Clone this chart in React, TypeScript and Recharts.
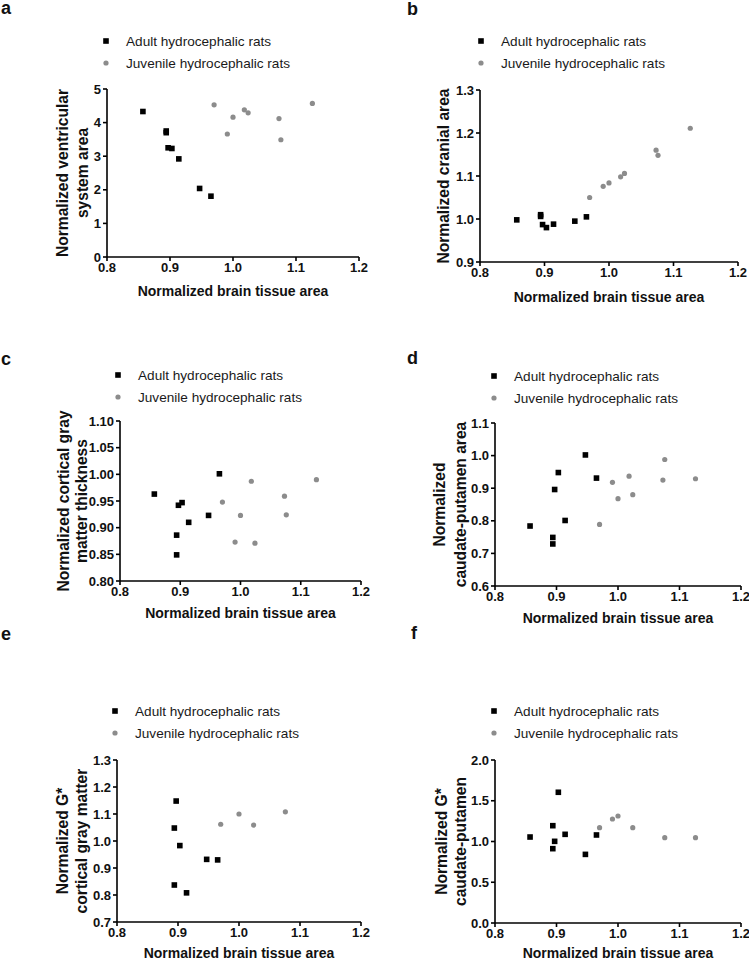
import { Scatter, ScatterChart, XAxis, YAxis } from "recharts";

const FONT = "Arial, 'Liberation Sans', Helvetica, sans-serif";
const ADULT_COLOR = "#000000";
const JUVENILE_COLOR = "#8c8c8c";

const seriesNames = ["Adult hydrocephalic rats", "Juvenile hydrocephalic rats"];
const xTitle = "Normalized brain tissue area";
const xTicks = [0.8, 0.9, 1.0, 1.1, 1.2];

// normalized brain tissue area (x) for each animal
const adultX = [0.857, 0.894, 0.894, 0.897, 0.903, 0.914, 0.947, 0.965];
const juvenileX = [0.97, 0.991, 1.0, 1.018, 1.024, 1.073, 1.076, 1.126];
const adultXE = [0.894, 0.894, 0.897, 0.903, 0.914, 0.947, 0.965];
const juvenileXE = [0.97, 1.0, 1.024, 1.076];
const juvenileXF = [0.97, 0.991, 1.0, 1.024, 1.076, 1.126];

// a - ventricular system area
const ventricularAdult = [4.33, 3.75, 3.7, 3.25, 3.23, 2.92, 2.04, 1.81];
const ventricularJuvenile = [4.53, 3.66, 4.16, 4.38, 4.29, 4.12, 3.49, 4.57];
const ventricularTicks = [0, 1, 2, 3, 4, 5];

// b - cranial area
const cranialAdult = [0.998, 1.01, 1.006, 0.987, 0.98, 0.988, 0.995, 1.005];
const cranialJuvenile = [1.05, 1.076, 1.084, 1.098, 1.106, 1.16, 1.148, 1.211];
const cranialTicks = [0.9, 1.0, 1.1, 1.2, 1.3];

// c - cortical gray matter thickness
const cortexAdult = [0.963, 0.886, 0.849, 0.942, 0.947, 0.91, 0.923, 1.001];
const cortexJuvenile = [0.948, 0.873, 0.923, 0.987, 0.871, 0.959, 0.924, 0.99];
const cortexTicks = [0.8, 0.85, 0.9, 0.95, 1.0, 1.05, 1.1];

// d - caudate-putamen area
const caudateAdult = [0.784, 0.749, 0.729, 0.896, 0.948, 0.801, 1.002, 0.931];
const caudateJuvenile = [0.789, 0.918, 0.868, 0.937, 0.88, 0.925, 0.988, 0.929];
const caudateTicks = [0.6, 0.7, 0.8, 0.9, 1.0, 1.1];

// e - G* cortical gray matter
const gCortexAdult = [1.048, 0.837, 1.148, 0.983, 0.808, 0.932, 0.93];
const gCortexJuvenile = [1.062, 1.1, 1.059, 1.108];
const gCortexTicks = [0.7, 0.8, 0.9, 1.0, 1.1, 1.2, 1.3];

// f - G* caudate-putamen
const gCaudateAdult = [1.055, 1.194, 0.912, 1.002, 1.604, 1.088, 0.842, 1.08];
const gCaudateJuvenile = [1.17, 1.276, 1.313, 1.17, 1.047, 1.047];
const gCaudateTicks = [0, 0.5, 1.0, 1.5, 2.0];

const pairs = (xs: number[], ys: number[]) => xs.map((x, i) => ({ x, y: ys[i] }));

type Panel = {
  letter: string;
  letterX: number;
  letterY: number;
  left: number;
  top: number;
  right: number;
  bottom: number;
  legendX: number;
  legendY: number;
  yTitle: string[];
  yTitleX: number[];
  xTitleDy: number;
  yTicks: number[];
  digits: number;
  adult: { x: number; y: number }[];
  juvenile: { x: number; y: number }[];
};

const panels: Panel[] = [
  {
    letter: "a", letterX: 1, letterY: 14,
    left: 107, top: 89, right: 359, bottom: 257,
    legendX: 106, legendY: 41,
    yTitle: ["Normalized ventricular", "system area"], yTitleX: [-45, -25], xTitleDy: 39,
    yTicks: ventricularTicks, digits: 0,
    adult: pairs(adultX, ventricularAdult), juvenile: pairs(juvenileX, ventricularJuvenile),
  },
  {
    letter: "b", letterX: 407, letterY: 15,
    left: 480, top: 90, right: 738, bottom: 262,
    legendX: 481, legendY: 41,
    yTitle: ["Normalized cranial area"], yTitleX: [-37], xTitleDy: 40,
    yTicks: cranialTicks, digits: 1,
    adult: pairs(adultX, cranialAdult), juvenile: pairs(juvenileX, cranialJuvenile),
  },
  {
    letter: "c", letterX: 1, letterY: 365,
    left: 120, top: 421, right: 361, bottom: 581,
    legendX: 118, legendY: 375,
    yTitle: ["Normalized cortical gray", "matter thickness"], yTitleX: [-57, -39], xTitleDy: 37,
    yTicks: cortexTicks, digits: 2,
    adult: pairs(adultX, cortexAdult), juvenile: pairs(juvenileX, cortexJuvenile),
  },
  {
    letter: "d", letterX: 407, letterY: 364,
    left: 495, top: 423, right: 741, bottom: 586,
    legendX: 494, legendY: 376,
    yTitle: ["Normalized", "caudate-putamen area"], yTitleX: [-56, -35], xTitleDy: 37,
    yTicks: caudateTicks, digits: 1,
    adult: pairs(adultX, caudateAdult), juvenile: pairs(juvenileX, caudateJuvenile),
  },
  {
    letter: "e", letterX: 1, letterY: 640,
    left: 117, top: 760, right: 361, bottom: 922,
    legendX: 115, legendY: 711,
    yTitle: ["Normalized G*", "cortical gray matter"], yTitleX: [-55, -36], xTitleDy: 36,
    yTicks: gCortexTicks, digits: 1,
    adult: pairs(adultXE, gCortexAdult), juvenile: pairs(juvenileXE, gCortexJuvenile),
  },
  {
    letter: "f", letterX: 411, letterY: 639,
    left: 495, top: 760, right: 741, bottom: 923,
    legendX: 494, legendY: 711,
    yTitle: ["Normalized G*", "caudate-putamen"], yTitleX: [-54, -35], xTitleDy: 35,
    yTicks: gCaudateTicks, digits: 1,
    adult: pairs(adultX, gCaudateAdult), juvenile: pairs(juvenileXF, gCaudateJuvenile),
  },
];

const Y_AXIS_W = 80;
const PAD_TOP = 30;
const PAD_RIGHT = 15;
const X_AXIS_H = 50;

const SquareDot = (props: any) => (
  <rect x={props.cx - 2.8} y={props.cy - 2.8} width={5.6} height={5.6} fill={ADULT_COLOR} />
);

const RoundDot = (props: any) => <circle cx={props.cx} cy={props.cy} r={2.6} fill={JUVENILE_COLOR} />;

const YTitle = ({ viewBox, lines, offsets }: any) => {
  const right = viewBox.x + viewBox.width;
  const cy = viewBox.y + viewBox.height / 2;
  return (
    <g>
      {lines.map((line: string, i: number) => {
        const cx = right + offsets[i] + 5.5;
        return (
          <text
            key={i}
            x={cx}
            y={cy}
            transform={`rotate(-90, ${cx}, ${cy})`}
            textAnchor="middle"
            fontFamily={FONT}
            fontWeight="bold"
            fontSize={15.6}
            fill="#111"
          >
            {line}
          </text>
        );
      })}
    </g>
  );
};

const XTitle = ({ viewBox, dy }: any) => (
  <text
    x={viewBox.x + viewBox.width / 2}
    y={viewBox.y + dy}
    textAnchor="middle"
    fontFamily={FONT}
    fontWeight="bold"
    fontSize={14}
    fill="#111"
  >
    {xTitle}
  </text>
);

const PanelChart = ({ p }: { p: Panel }) => {
  const width = p.right - p.left + Y_AXIS_W + PAD_RIGHT;
  const height = p.bottom - p.top + PAD_TOP + X_AXIS_H;
  const tick = { fontSize: 13, fill: "#111", fontFamily: FONT, fontWeight: "bold" };
  const axisLine = { stroke: "#000", strokeWidth: 1.6 };
  return (
    <div style={{ position: "absolute", left: p.left - Y_AXIS_W, top: p.top - PAD_TOP }}>
      <ScatterChart width={width} height={height} margin={{ top: PAD_TOP, right: PAD_RIGHT, bottom: 0, left: 0 }}>
        <XAxis
          type="number"
          dataKey="x"
          domain={[0.8, 1.2]}
          ticks={xTicks}
          tickFormatter={(v: number) => v.toFixed(1)}
          height={X_AXIS_H}
          tick={tick}
          tickSize={4}
          tickMargin={2}
          axisLine={axisLine}
          tickLine={axisLine}
          allowDataOverflow
          label={<XTitle dy={p.xTitleDy} />}
        />
        <YAxis
          type="number"
          dataKey="y"
          domain={[p.yTicks[0], p.yTicks[p.yTicks.length - 1]]}
          ticks={p.yTicks}
          tickFormatter={(v: number) => v.toFixed(p.digits)}
          width={Y_AXIS_W}
          tick={tick}
          tickSize={4}
          tickMargin={2}
          axisLine={axisLine}
          tickLine={axisLine}
          allowDataOverflow
          label={<YTitle lines={p.yTitle} offsets={p.yTitleX} />}
        />
        <Scatter name={seriesNames[0]} data={p.adult} shape={<SquareDot />} isAnimationActive={false} />
        <Scatter name={seriesNames[1]} data={p.juvenile} shape={<RoundDot />} isAnimationActive={false} />
      </ScatterChart>
    </div>
  );
};

const Overlay = () => (
  <svg width={749} height={961} style={{ position: "absolute", left: 0, top: 0 }}>
    {panels.map((p) => (
      <g key={p.letter} fontFamily={FONT}>
        <text x={p.letterX} y={p.letterY} fontSize={18} fontWeight="bold" fill="#111">
          {p.letter}
        </text>
        <rect x={p.legendX - 2.8} y={p.legendY - 2.8} width={5.6} height={5.6} fill={ADULT_COLOR} />
        <circle cx={p.legendX} cy={p.legendY + 22} r={2.6} fill={JUVENILE_COLOR} />
        {seriesNames.map((name, i) => (
          <text key={name} x={p.legendX + 20} y={p.legendY + 5 + i * 22} fontSize={13.6} fill="#1a1a1a">
            {name}
          </text>
        ))}
      </g>
    ))}
  </svg>
);

export default function App() {
  return (
    <div style={{ position: "absolute", left: 0, top: 0, width: 749, height: 961, background: "#fff" }}>
      <Overlay />
      {panels.map((p) => (
        <PanelChart key={p.letter} p={p} />
      ))}
    </div>
  );
}
